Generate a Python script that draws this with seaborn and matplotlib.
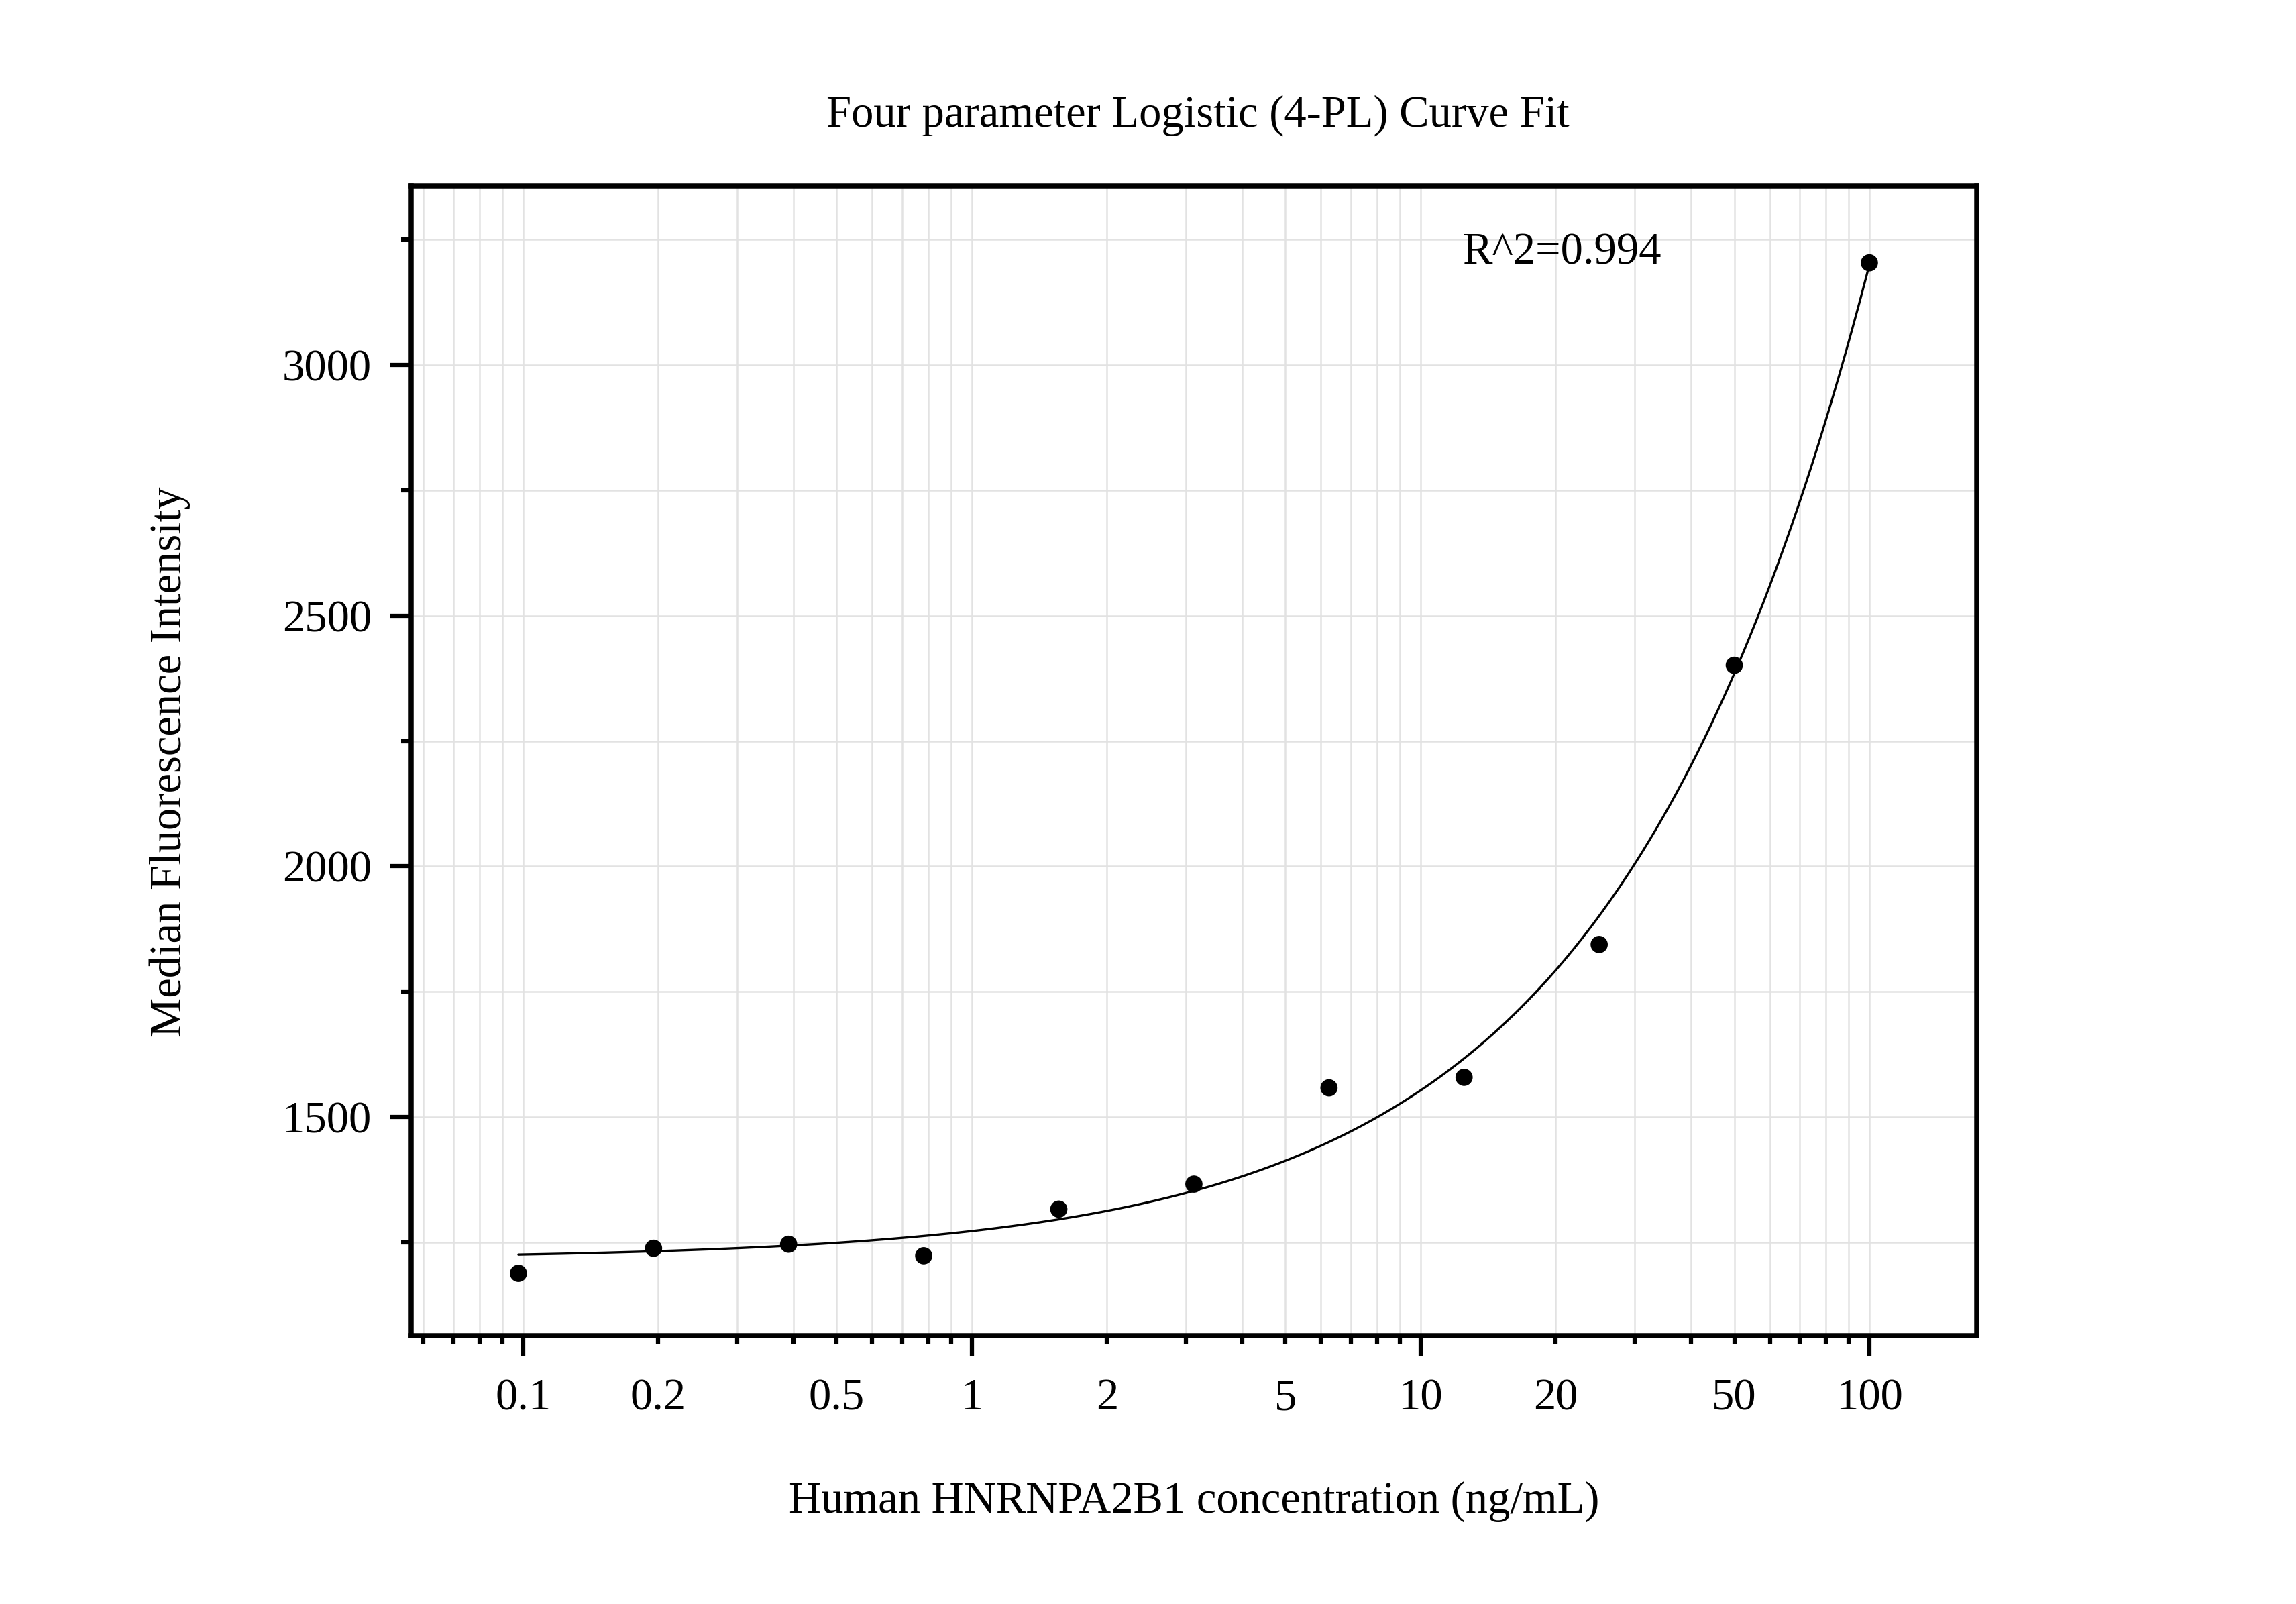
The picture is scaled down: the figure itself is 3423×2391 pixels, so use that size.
import numpy as np
import pandas as pd
import seaborn as sns
import matplotlib
matplotlib.use("Agg")
import matplotlib.pyplot as plt
from matplotlib.ticker import FixedLocator, FixedFormatter, NullFormatter

# ---- data ----
concentration = [0.09765625, 0.1953125, 0.390625, 0.78125, 1.5625, 3.125,
                 6.25, 12.5, 25.0, 50.0, 100.0]
mfi = [1188, 1238, 1246, 1223, 1316, 1366, 1558, 1579, 1844, 2401, 3204]

title = "Four parameter Logistic (4-PL) Curve Fit"
x_label = "Human HNRNPA2B1 concentration (ng/mL)"
y_label = "Median Fluorescence Intensity"
r2_text = "R^2=0.994"

x_major = [0.1, 1, 10, 100]
x_major_labels = ["0.1", "1", "10", "100"]
x_minor = [0.06, 0.07, 0.08, 0.09,
           0.2, 0.3, 0.4, 0.5, 0.6, 0.7, 0.8, 0.9,
           2, 3, 4, 5, 6, 7, 8, 9,
           20, 30, 40, 50, 60, 70, 80, 90]
x_minor_labelled = {0.2: "0.2", 0.5: "0.5", 2: "2", 5: "5", 20: "20", 50: "50"}
y_major = [1500, 2000, 2500, 3000]
y_minor = [1250, 1750, 2250, 2750, 3250]

df = pd.DataFrame({"conc": concentration, "mfi": mfi})

# ---- 4-PL least-squares fit (grid over B, C; linear solve for A, D) ----
x = np.array(concentration)
y = np.array(mfi, dtype=float)
best = None
for B in np.linspace(0.3, 3.0, 271):
    for logC in np.linspace(0.0, 4.0, 401):
        C = 10 ** logC
        u = 1.0 / (1.0 + (x / C) ** B)
        M = np.column_stack([u, 1 - u])
        coef, *_ = np.linalg.lstsq(M, y, rcond=None)
        sse = np.sum((M @ coef - y) ** 2)
        if best is None or sse < best[0]:
            best = (sse, coef[0], coef[1], B, C)
_, A, D, B, C = best
xf = np.logspace(np.log10(x.min()), np.log10(x.max()), 400)
fit_df = pd.DataFrame({"conc": xf, "mfi": D + (A - D) / (1 + (xf / C) ** B)})

# ---- figure ----
sns.set_style("white")
plt.rcParams["font.family"] = ["Liberation Serif", "DejaVu Serif"]
plt.rcParams["text.color"] = "black"
plt.rcParams["axes.labelcolor"] = "black"
plt.rcParams["xtick.color"] = "black"
plt.rcParams["ytick.color"] = "black"

fig = plt.figure(figsize=(3423 / 300, 2391 / 300), dpi=300)
ax = fig.add_axes([0.1792, 0.1671, 0.6818, 0.7169])

sns.lineplot(data=fit_df, x="conc", y="mfi", ax=ax, color="black",
             linewidth=0.8, zorder=3)
sns.scatterplot(data=df, x="conc", y="mfi", ax=ax, color="black",
                s=38, edgecolor="none", zorder=4)

ax.set_xscale("log")
ax.set_xlim(0.0564, 173.6)
ax.set_ylim(1063, 3357)

ax.xaxis.set_major_locator(FixedLocator(x_major))
ax.xaxis.set_major_formatter(FixedFormatter(x_major_labels))
ax.xaxis.set_minor_locator(FixedLocator(x_minor))
ax.xaxis.set_minor_formatter(FixedFormatter(
    [x_minor_labelled.get(v, "") for v in x_minor]))
ax.yaxis.set_major_locator(FixedLocator(y_major))
ax.yaxis.set_minor_locator(FixedLocator(y_minor))
ax.yaxis.set_minor_formatter(NullFormatter())

ax.grid(True, which="both", color="#e2e2e2", linewidth=0.6, zorder=0)
ax.set_axisbelow(True)

for sp in ax.spines.values():
    sp.set_linewidth(1.8)
    sp.set_color("black")
    sp.set_visible(True)

ax.tick_params(axis="x", which="major", direction="out", length=7.5, width=1.5,
               pad=7.6, labelsize=16, bottom=True, top=False, colors="black")
ax.tick_params(axis="x", which="minor", direction="out", length=3.1, width=1.5,
               pad=12.0, labelsize=16, bottom=True, top=False, colors="black")
ax.tick_params(axis="y", which="major", direction="out", length=7.8, width=1.5,
               pad=6.5, labelsize=16, left=True, right=False, colors="black")
ax.tick_params(axis="y", which="minor", direction="out", length=3.6, width=1.5,
               left=True, right=False, colors="black")

ax.set_xlabel("")
ax.set_ylabel("")
fig.text(0.520, 0.0639, x_label, ha="center", va="center", fontsize=16,
         color="black")
fig.text(0.074, 0.525, y_label, ha="center", va="center", rotation=90,
         fontsize=16, color="black")
fig.text(0.5217, 0.928, title, ha="center", va="center", fontsize=16,
         color="black")
ax.text(12.4, 3224, r2_text, ha="left", va="center", fontsize=16,
        color="black")

fig.savefig("out.png", dpi=300, facecolor="white")
